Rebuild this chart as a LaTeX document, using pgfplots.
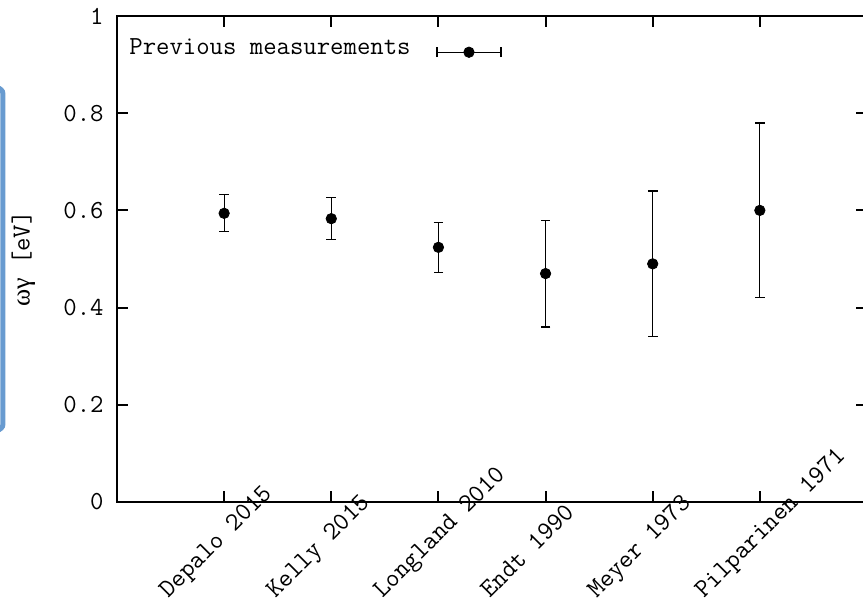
\documentclass[border=0pt]{standalone}
\usepackage{fontspec}
\newfontfamily\greekfont{Liberation Serif}
\usepackage{pgfplots}
\pgfplotsset{compat=1.18}
\definecolor{frameblue}{RGB}{104,155,208}

% resonance strengths: index, value, uncertainty
\pgfplotstableread{
x y e
1 0.594 0.038
2 0.583 0.043
3 0.524 0.051
4 0.47 0.11
5 0.49 0.15
6 0.60 0.18
}\measurements

\begin{document}
\begin{tikzpicture}[font=\ttfamily\fontsize{13}{15.5}\selectfont]
\begin{axis}[
  name=ax,
  scale only axis, width=375pt, height=243pt,
  xmin=0, xmax=7, ymin=0, ymax=1,
  xtick={1,2,3,4,5,6},
  xticklabels={Depalo 2015, Kelly 2015, Longland 2010, Endt 1990, Meyer 1973, Pilparinen 1971},
  ytick={0,0.2,0.4,0.6,0.8,1},
  /pgf/number format/assume math mode=true,
  axis line style={line width=1pt},
  tick style={line width=1pt, black},
  major tick length=5.5pt,
  tick align=inside,
  yticklabel style={inner sep=0pt, xshift=-6.5pt, anchor=east},
  xticklabel style={xshift=-28pt, yshift=-48.5pt, rotate=45, anchor=base west, inner sep=0pt},
  ylabel={{\greekfont ωγ} [eV]},
  ylabel style={at={(axis description cs:-0.125,0.5)}, anchor=center},
  legend plot pos=right,
  legend style={at={(axis description cs:0,1)}, anchor=north west, draw=none, fill=none,
    xshift=1pt, yshift=-7pt},
  legend cell align=left,
]
\addplot[only marks, mark=*, mark size=2.6pt, black,
  legend image code/.code={
    \path (0pt,0pt);
    \draw[line width=0.6pt] (11pt,-2.2pt) -- (43pt,-2.2pt);
    \draw[line width=0.6pt] (11pt,-4.6pt) -- (11pt,0.2pt) (43pt,-4.6pt) -- (43pt,0.2pt);
    \fill (27pt,-2.2pt) circle (2.6pt);
  },
  error bars/.cd, y dir=both, y explicit,
  error bar style={line width=0.6pt, black},
  error mark options={rotate=90, line width=0.6pt, mark size=2.4pt, black}]
  table[x=x, y=y, y error=e] {\measurements};
\addlegendentry{Previous measurements}
\end{axis}
\draw[frameblue, line width=2.5pt, rounded corners=3pt]
  ([shift={(-90pt,207pt)}]ax.south west) -- ([shift={(-57pt,207pt)}]ax.south west)
  -- ([shift={(-57pt,36pt)}]ax.south west) -- ([shift={(-90pt,36pt)}]ax.south west);
\pgfresetboundingbox
\useasboundingbox ([shift={(-58.5pt,-49pt)}]ax.south west) rectangle ([shift={(373pt,251pt)}]ax.south west);
\end{tikzpicture}
\end{document}
